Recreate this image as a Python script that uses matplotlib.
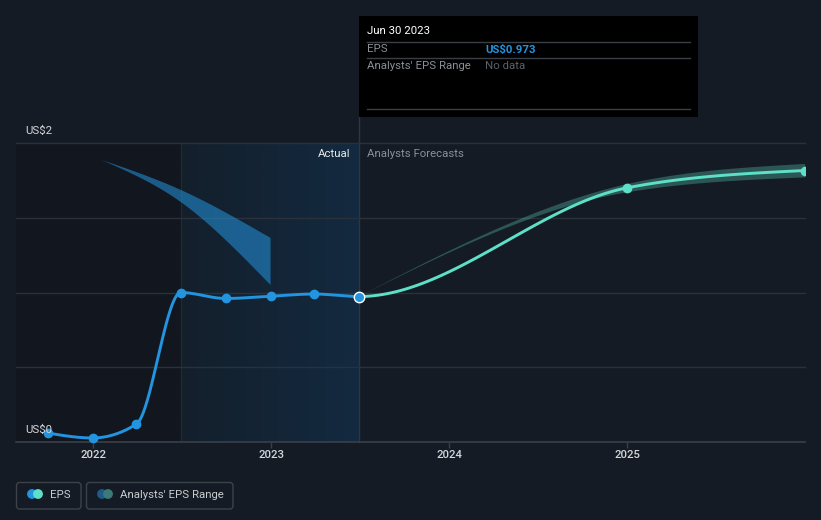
import numpy as np
import pandas as pd
import matplotlib
matplotlib.use("Agg")
import matplotlib.pyplot as plt
import matplotlib.dates as mdates
from matplotlib.patches import Rectangle, FancyBboxPatch, Circle
from matplotlib.colors import LinearSegmentedColormap

# ---------------- data ----------------
actual_dates = ["2021-09-30", "2021-12-31", "2022-03-31", "2022-06-30",
                "2022-09-30", "2022-12-31", "2023-03-31", "2023-06-30"]
actual_eps = [0.06, 0.027, 0.12, 1.00, 0.96, 0.975, 0.99, 0.973]

forecast_dates = ["2024-12-31", "2025-12-31"]
forecast_eps = [1.70, 1.816]

range_dates = ["2023-06-30", "2024-12-31", "2025-12-31"]
range_low = [0.973, 1.67, 1.77]
range_high = [0.973, 1.725, 1.86]

past_range_dates = ["2022-01-19", "2022-06-30", "2022-12-31"]
past_range_low = [1.886, 1.605, 1.05]
past_range_high = [1.886, 1.686, 1.365]

y_ticks = [0, 2]
y_tick_labels = ["US$0", "US$2"]
x_tick_years = ["2022", "2023", "2024", "2025"]

# ---------------- style ----------------
plt.rcParams["font.family"] = ["Roboto", "DejaVu Sans"]
BG = "#151b24"
BLUE = "#2394df"
TEAL = "#5ee0c8"
GRID = "#2b313b"
TXT = "#d5d7da"
GREY = "#8b9096"
FS = 8.2

W, H = 821, 520
fig = plt.figure(figsize=(W / 100, H / 100), dpi=100, facecolor=BG)

def px_axes(l, t, r, b):
    return [l / W, 1 - b / H, (r - l) / W, (b - t) / H]

ax = fig.add_axes(px_axes(16, 143, 805, 442))
ax.set_facecolor("none")
for s in ax.spines.values():
    s.set_visible(False)


def to_num(dates):
    return mdates.date2num(pd.to_datetime(dates).to_pydatetime())


def monotone(x, y, n=60):
    """d3 curveMonotoneX equivalent."""
    x = np.asarray(x, float)
    y = np.asarray(y, float)
    m = len(x)
    h = np.diff(x)
    s = np.diff(y) / h
    t = np.zeros(m)
    sign = lambda v: -1.0 if v < 0 else 1.0
    for i in range(1, m - 1):
        s0, s1 = s[i - 1], s[i]
        p = (s0 * h[i] + s1 * h[i - 1]) / (h[i - 1] + h[i])
        t[i] = (sign(s0) + sign(s1)) * min(abs(s0), abs(s1), 0.5 * abs(p))
    if m == 2:
        t[:] = s[0]
    else:
        t[0] = (3 * s[0] - t[1]) / 2
        t[-1] = (3 * s[-1] - t[-2]) / 2
    xs, ys = [], []
    for i in range(m - 1):
        u = np.linspace(0, 1, n)
        h00 = 2 * u**3 - 3 * u**2 + 1
        h10 = u**3 - 2 * u**2 + u
        h01 = -2 * u**3 + 3 * u**2
        h11 = u**3 - u**2
        yy = h00 * y[i] + h10 * h[i] * t[i] + h01 * y[i + 1] + h11 * h[i] * t[i + 1]
        xx = x[i] + u * h[i]
        xs.append(xx)
        ys.append(yy)
    return np.concatenate(xs), np.concatenate(ys)


xa = to_num(actual_dates)
xf = to_num(forecast_dates)
xr = to_num(range_dates)
xp = to_num(past_range_dates)

x_left = to_num(["2021-07-27"])[0]
x_right = to_num(["2025-12-31"])[0]
x_split = xa[-1]
x_hl_start = to_num(["2022-06-30"])[0]

# background regions
ax.axvspan(x_left, x_hl_start, color="#12171f", lw=0, zorder=0)
cmap = LinearSegmentedColormap.from_list("hl", ["#131f2b", "#132a40"])
ax.imshow(np.linspace(0, 1, 256).reshape(1, -1), cmap=cmap, aspect="auto",
          extent=[x_hl_start, x_split, 0, 2], zorder=0.1, interpolation="bilinear")
ax.axvline(x_hl_start, color="#1d2a38", lw=1, zorder=0.5)
ax.axvline(x_split, ymin=0, ymax=(442 - 117) / 299, color="#26384a", lw=1,
           zorder=0.5, clip_on=False)

# grid
for v in [0.5, 1.0, 1.5, 2.0]:
    ax.axhline(v, color=GRID, lw=1, zorder=1, clip_on=False)
ax.axhline(0, color="#3a4049", lw=1.2, zorder=1, clip_on=False)

# past analyst range
pxu, pyu = monotone(xp, past_range_high)
pxl, pyl = monotone(xp, past_range_low)
ax.fill(np.concatenate([pxu, pxl[::-1]]), np.concatenate([pyu, pyl[::-1]]),
        color=BLUE, alpha=0.55, lw=0, zorder=2)

# forecast range
rxu, ryu = monotone(xr, range_high)
rxl, ryl = monotone(xr, range_low)
ax.fill(np.concatenate([rxu, rxl[::-1]]), np.concatenate([ryu, ryl[::-1]]),
        color=TEAL, alpha=0.3, lw=0, zorder=2)

# EPS line (actual + forecast, one smooth curve)
all_x = np.concatenate([xa, xf])
all_y = np.concatenate([actual_eps, forecast_eps])
cx, cy = monotone(all_x, all_y)
m_act = cx <= x_split + 1e-9
ax.plot(cx[m_act], cy[m_act], color=BLUE, lw=2.1, zorder=3, solid_capstyle="round")
ax.plot(cx[cx >= x_split - 1e-9], cy[cx >= x_split - 1e-9], color=TEAL, lw=2.1,
        zorder=3, solid_capstyle="round")
ax.plot(xa[:-1], actual_eps[:-1], "o", color=BLUE, ms=6, zorder=4, clip_on=False)
ax.plot(xf, forecast_eps, "o", color=TEAL, ms=6, zorder=4)
ax.plot([xa[-1]], [actual_eps[-1]], "o", color=BLUE, ms=7.5, mec="white",
        mew=1.0, zorder=5)

ax.set_xlim(x_left, x_right)
ax.set_ylim(0, 2)

# ticks
xt = to_num([f"{y}-01-01" for y in x_tick_years])
ax.set_xticks(xt)
ax.set_xticklabels(x_tick_years, fontweight="medium")
ax.tick_params(axis="x", colors="#3a4049", length=4, width=1, pad=2,
               labelcolor=TXT, labelsize=FS)
ax.set_yticks([])

for v, lab in zip(y_ticks, y_tick_labels):
    ax.annotate(lab, xy=(0, v), xycoords=("axes fraction", "data"),
                xytext=(9, 12), textcoords="offset pixels", color=TXT,
                fontsize=FS, ha="left", va="center", zorder=6)

ax.annotate("Actual", xy=(x_split, 2), xycoords="data", xytext=(-8, -11),
            textcoords="offset pixels", ha="right", va="center", color="#e6e8ea",
            fontsize=FS, zorder=6)
ax.annotate("Analysts Forecasts", xy=(x_split, 2), xycoords="data", xytext=(8, -11),
            textcoords="offset pixels", ha="left", va="center", color=GREY,
            fontsize=FS, zorder=6)

# ---------------- overlay (tooltip + legend) ----------------
ov = fig.add_axes([0, 0, 1, 1])
ov.set_xlim(0, W)
ov.set_ylim(H, 0)
ov.axis("off")
ov.set_facecolor("none")

ov.add_patch(Rectangle((359, 16), 339, 101, facecolor="black", edgecolor="none"))
ov.text(367, 31, "Jun 30 2023", color="white", fontsize=FS, va="center")
for yy in (41.5, 58, 109):
    ov.plot([367, 690], [yy, yy], color="#3a3f45", lw=1)
ov.text(367, 49.5, "EPS", color=GREY, fontsize=FS, va="center")
ov.text(485, 49.5, "US$0.973", color=BLUE, fontsize=FS, va="center", fontweight="bold")
ov.text(367, 66, "Analysts' EPS Range", color=GREY, fontsize=FS, va="center")
ov.text(485, 66, "No data", color="#5c6168", fontsize=FS, va="center")

# legend
ov.add_patch(FancyBboxPatch((16.5, 482.5), 64.5, 26.5,
                            boxstyle="round,pad=0,rounding_size=3",
                            facecolor="none", edgecolor="#3c424a", lw=1))
ov.add_patch(FancyBboxPatch((86.5, 482.5), 146.5, 26.5,
                            boxstyle="round,pad=0,rounding_size=3",
                            facecolor="none", edgecolor="#3c424a", lw=1))
ov.add_patch(Circle((32, 494), 4.2, color=BLUE))
ov.add_patch(Circle((38, 494), 4.2, color=TEAL))
ov.text(50, 495, "EPS", color="#c9cbce", fontsize=FS, va="center")
ov.add_patch(Circle((102, 494), 4.2, color="#1f5a8a"))
ov.add_patch(Circle((108, 494), 4.2, color="#3b7a78"))
ov.text(120, 495, "Analysts' EPS Range", color="#c9cbce", fontsize=FS, va="center")

fig.savefig("out.png", dpi=100, facecolor=BG)
